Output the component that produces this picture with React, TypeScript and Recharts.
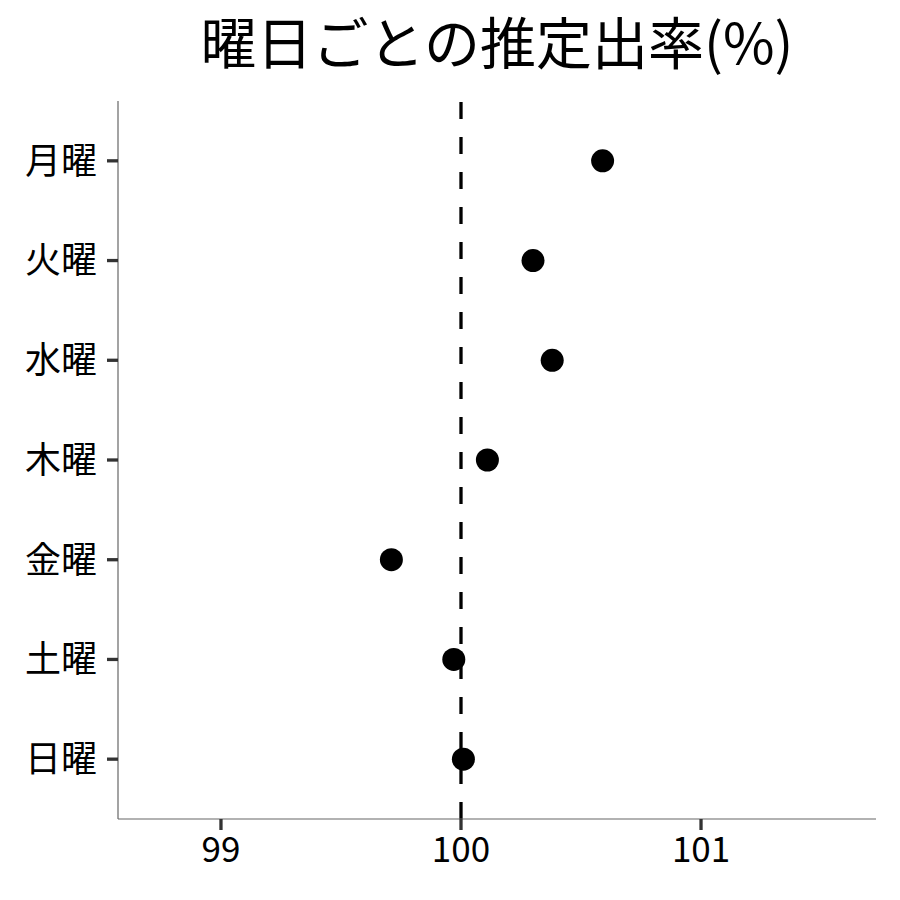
import {
  ScatterChart,
  Scatter,
  XAxis,
  YAxis,
  ReferenceLine,
} from "recharts";

// 曜日と推定出率
const DAYS = ["月曜", "火曜", "水曜", "木曜", "金曜", "土曜", "日曜"];
const RATES = [100.59, 100.3, 100.38, 100.11, 99.71, 99.97, 100.01];
const X_TICKS = [99, 100, 101];

const FONT = '"Noto Sans CJK JP", "Noto Sans", sans-serif';

// 上から月曜 → y=7, 日曜 → y=1
const data = DAYS.map((day, i) => ({ day, y: DAYS.length - i, rate: RATES[i] }));
const Y_TICKS = data.map((d) => d.y);

const Dot = (props: any) => <circle cx={props.cx} cy={props.cy} r={11.5} fill="#000" />;

export default function App() {
  return (
    <div style={{ position: "absolute", left: 0, top: 0, width: 900, height: 900, background: "#fff" }}>
      <svg width={900} height={90} style={{ position: "absolute", left: 0, top: 0 }}>
        <text x={497} y={64} textAnchor="middle" fontFamily={FONT} fontSize={56} fill="#000">
          曜日ごとの推定出率(%)
        </text>
      </svg>
      <div style={{ position: "absolute", left: 0, top: 0 }}>
        <ScatterChart width={900} height={900} margin={{ top: 101, right: 24, left: 0, bottom: 0 }}>
          <XAxis
            type="number"
            dataKey="rate"
            domain={[98.571, 101.729]}
            ticks={X_TICKS}
            allowDataOverflow
            height={81}
            axisLine={{ stroke: "#666", strokeWidth: 1.2 }}
            tickLine={{ stroke: "#333", strokeWidth: 3.3 }}
            tickSize={11}
            tickMargin={7}
            tick={{ fill: "#000", fontSize: 35, fontFamily: FONT }}
          />
          <YAxis
            type="number"
            dataKey="y"
            domain={[0.4, 7.6]}
            ticks={Y_TICKS}
            allowDataOverflow
            width={118}
            axisLine={{ stroke: "#666", strokeWidth: 1.2 }}
            tickLine={{ stroke: "#333", strokeWidth: 3.3 }}
            tickSize={11}
            tickMargin={10}
            tickFormatter={(v: number) => DAYS[DAYS.length - v]}
            tick={{ fill: "#000", fontSize: 36, fontFamily: FONT }}
          />
          <ReferenceLine x={100} stroke="#000" strokeWidth={3.3} strokeDasharray="17 18" />
          <Scatter data={data} shape={Dot} isAnimationActive={false} />
        </ScatterChart>
      </div>
    </div>
  );
}
